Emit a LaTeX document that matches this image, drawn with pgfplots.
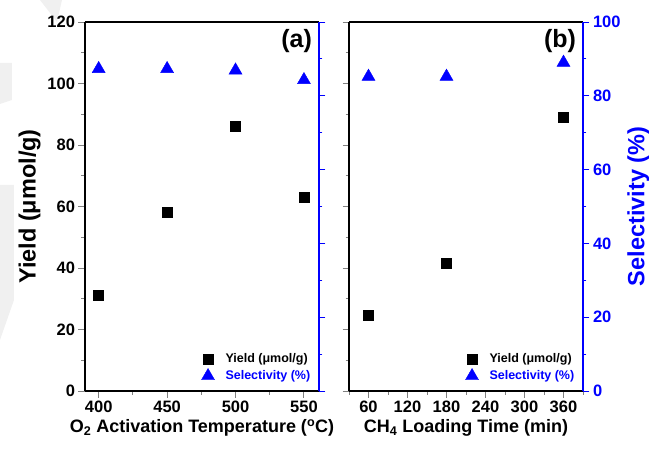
\documentclass[border=0pt]{standalone}
\usepackage{fontspec}
\setmainfont{Liberation Sans}
\usepackage{pgfplots}
\pgfplotsset{compat=1.18}

\pgfplotsset{
  panel/.style={width=234pt,height=369pt,scale only axis,
    /pgf/number format/assume math mode=true,
    tick label style={font=\fontsize{16.5}{17}\selectfont\bfseries},
    xlabel style={font=\fontsize{18}{20}\selectfont\bfseries},
    ylabel style={font=\fontsize{23.5}{25}\selectfont\bfseries},
    tick align=outside,major tick length=6.5pt,minor tick length=3.5pt,
    tick style={line width=1pt},
    axis line style={line width=1.3pt}},
  yieldax/.style={panel,separate axis lines,
    axis y line*=left,axis x line*=box,xtick pos=bottom,
    ymin=0,ymax=120,ytick={0,20,...,120},minor y tick num=1,
    minor x tick num=1},
  selax/.style={panel,axis y line*=right,axis x line=none,
    ymin=0,ymax=100,ytick={0,20,...,100},minor y tick num=1,
    y axis line style={blue},ytick style={blue,line width=1pt},
    yticklabel style={blue},ylabel style={blue},
    legend style={at={(0.985,0.015)},anchor=south east,draw=none,fill=none,
      font=\fontsize{12.5}{13}\selectfont\bfseries,row sep=2pt},
    legend cell align=left},
}

\begin{document}
\begin{tikzpicture}
\path[use as bounding box] (-85pt,-57pt) rectangle (564pt,391pt);
% faint watermark of the source page
\fill[gray!12] (-45pt,391pt) -- (-23pt,391pt) -- (-28pt,369pt) -- cycle;
\fill[gray!12] (-85pt,328pt) -- (-73pt,328pt) -- (-73pt,291pt) -- (-85pt,287pt) -- cycle;
\fill[gray!12] (-85pt,206pt) -- (-71pt,206pt) -- (-71pt,91pt) -- (-85pt,51pt) -- cycle;

% (a)
\begin{axis}[yieldax,xmin=390,xmax=561,xtick={400,450,500,550},
  xlabel={O\textsubscript{2} Activation Temperature (\textsuperscript{o}C)},
  ylabel={Yield (μmol/g)}]
\addplot[only marks,mark=square*,mark size=5pt,black]
  coordinates {(400,31)(450,58)(500,86)(550,63)};
\node[anchor=north east,font=\fontsize{25}{26}\selectfont\bfseries]
  at (rel axis cs:0.985,0.99) {(a)};
\end{axis}
\begin{axis}[selax,xmin=390,xmax=561,yticklabels={}]
\addlegendimage{only marks,mark=square*,mark size=5pt,black}
\addlegendentry{\hspace{9pt}Yield (μmol/g)}
\addplot[only marks,mark=triangle*,mark size=7.5pt,blue]
  coordinates {(400,87.3)(450,87.3)(500,86.9)(550,84.3)};
\addlegendentry{\hspace{9pt}\textcolor{blue}{Selectivity (\%)}}
\end{axis}

% (b)
\begin{axis}[yieldax,at={(264pt,0pt)},xmin=30,xmax=390,
  xtick={60,120,...,360},minor xtick={30,90,...,390},yticklabels={},
  xlabel={CH\textsubscript{4} Loading Time (min)}]
\addplot[only marks,mark=square*,mark size=5pt,black]
  coordinates {(60,24.5)(180,41.4)(360,89.0)};
\node[anchor=north east,font=\fontsize{25}{26}\selectfont\bfseries]
  at (rel axis cs:0.985,0.99) {(b)};
\end{axis}
\begin{axis}[selax,at={(264pt,0pt)},xmin=30,xmax=390,
  ylabel={Selectivity (\%)}]
\addlegendimage{only marks,mark=square*,mark size=5pt,black}
\addlegendentry{\hspace{9pt}Yield (μmol/g)}
\addplot[only marks,mark=triangle*,mark size=7.5pt,blue]
  coordinates {(60,85.2)(180,85.2)(360,89.0)};
\addlegendentry{\hspace{9pt}\textcolor{blue}{Selectivity (\%)}}
\end{axis}
\end{tikzpicture}
\end{document}
